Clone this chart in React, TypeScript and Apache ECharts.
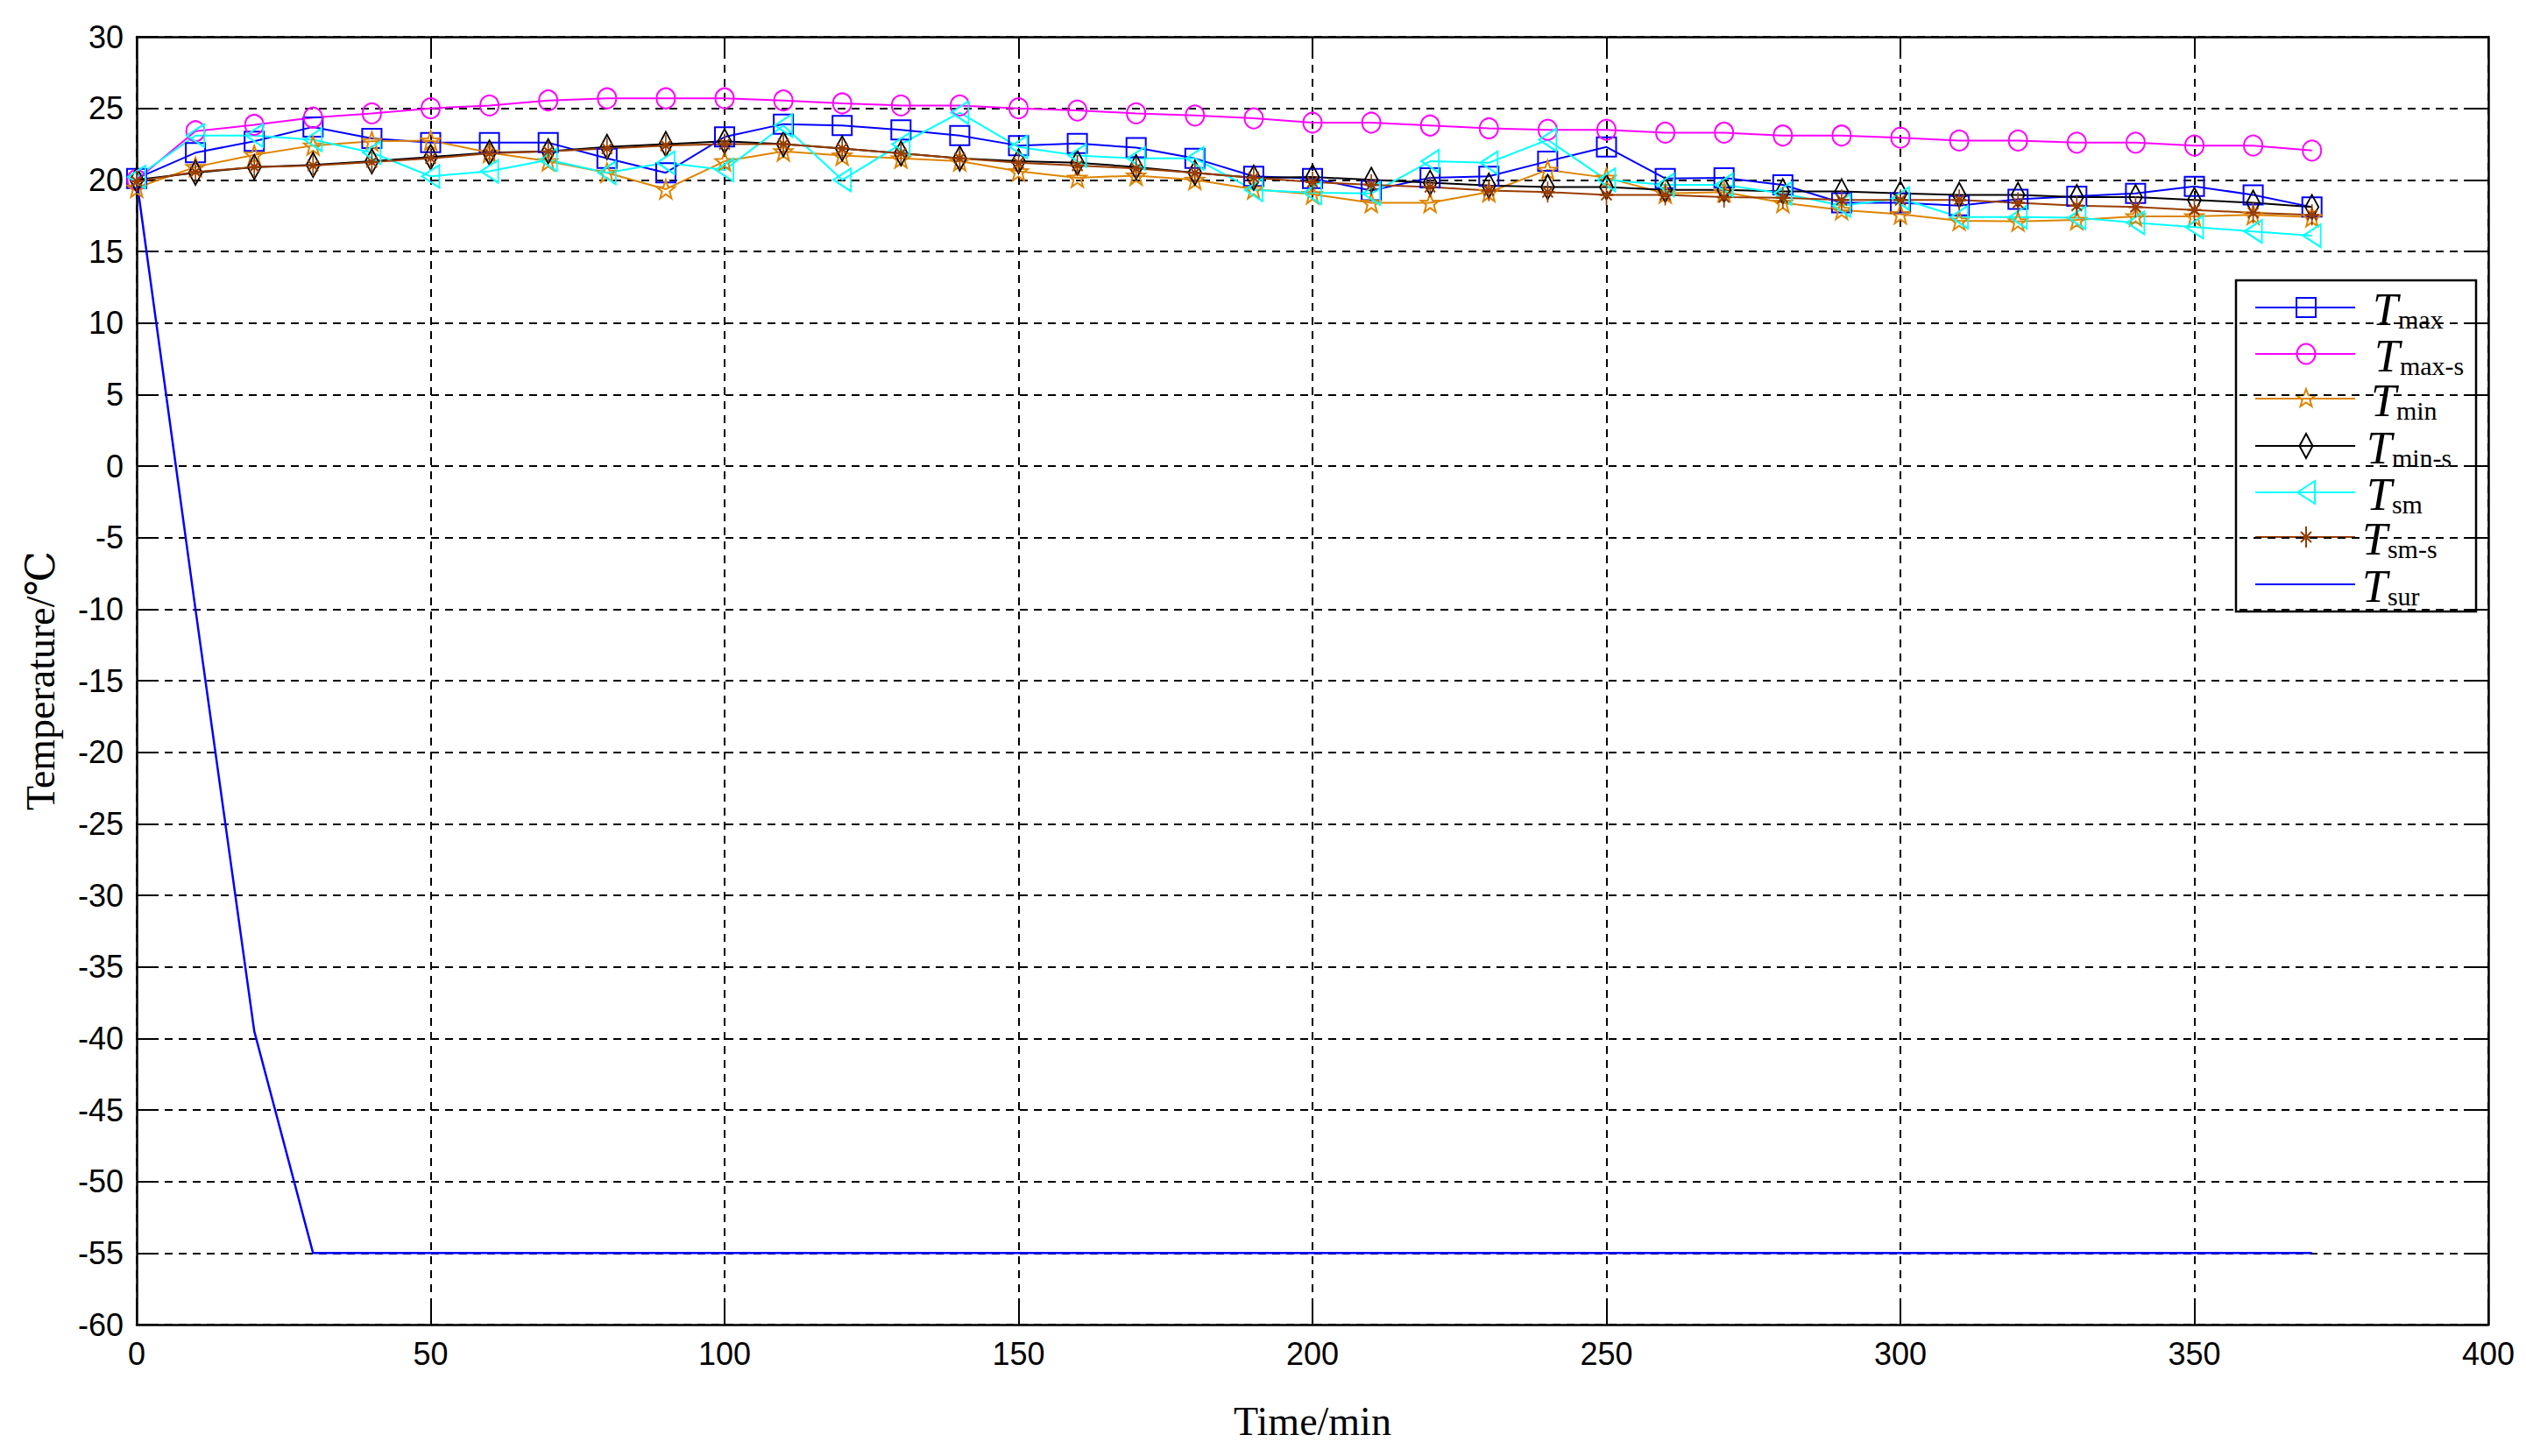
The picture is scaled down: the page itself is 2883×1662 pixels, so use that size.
import React, { useEffect, useRef } from "react";
import * as echarts from "echarts";

// ---- data ----
const TIME = [0, 10, 20, 30, 40, 50, 60, 70, 80, 90, 100, 110, 120, 130, 140, 150, 160, 170, 180, 190, 200, 210, 220, 230, 240, 250, 260, 270, 280, 290, 300, 310, 320, 330, 340, 350, 360, 370];

const T_MAX = [20.1, 21.9, 22.7, 23.7, 22.9, 22.6, 22.6, 22.6, 21.5, 20.5, 23.0, 23.9, 23.8, 23.5, 23.1, 22.4, 22.55, 22.25, 21.5, 20.25, 20.1, 19.25, 20.15, 20.25, 21.3, 22.3, 20.1, 20.15, 19.65, 18.4, 18.4, 18.2, 18.65, 18.85, 19.05, 19.55, 18.95, 18.1];
const T_MAX_S = [20.0, 23.4, 23.85, 24.35, 24.65, 25.0, 25.2, 25.55, 25.7, 25.7, 25.7, 25.55, 25.35, 25.2, 25.2, 25.0, 24.85, 24.65, 24.5, 24.3, 24.0, 24.0, 23.8, 23.6, 23.5, 23.5, 23.3, 23.3, 23.1, 23.1, 22.95, 22.75, 22.75, 22.6, 22.6, 22.4, 22.4, 22.05];
const T_MIN = [19.45, 20.9, 21.75, 22.4, 22.7, 22.75, 21.9, 21.3, 20.5, 19.35, 21.3, 22.0, 21.7, 21.5, 21.3, 20.6, 20.15, 20.3, 20.0, 19.35, 19.0, 18.4, 18.4, 19.15, 20.7, 20.15, 19.05, 19.15, 18.4, 17.9, 17.6, 17.15, 17.1, 17.2, 17.45, 17.45, 17.55, 17.4];
const T_MIN_S = [20.0, 20.5, 20.9, 21.05, 21.3, 21.6, 21.9, 22.0, 22.3, 22.5, 22.7, 22.5, 22.2, 21.85, 21.5, 21.3, 21.2, 20.9, 20.5, 20.15, 20.2, 20.0, 19.8, 19.6, 19.5, 19.5, 19.3, 19.3, 19.2, 19.2, 19.05, 18.95, 18.95, 18.8, 18.8, 18.6, 18.4, 18.1];
const T_SM = [20.2, 23.1, 23.1, 22.8, 21.9, 20.25, 20.6, 21.4, 20.5, 21.2, 20.7, 23.8, 20.0, 22.5, 24.7, 22.3, 21.7, 21.5, 21.5, 19.3, 19.1, 19.05, 21.3, 21.2, 22.8, 20.0, 19.65, 19.65, 19.05, 18.2, 18.7, 17.4, 17.4, 17.35, 17.0, 16.7, 16.4, 16.1];
const T_SM_S = [19.9, 20.55, 20.9, 21.0, 21.25, 21.5, 21.85, 22.0, 22.2, 22.4, 22.5, 22.5, 22.2, 21.85, 21.5, 21.2, 21.0, 20.8, 20.5, 20.15, 19.85, 19.65, 19.5, 19.25, 19.15, 18.95, 18.95, 18.8, 18.75, 18.6, 18.6, 18.6, 18.4, 18.2, 18.1, 17.9, 17.7, 17.55];
const T_SUR = [20, -10, -39.5, -55, -55, -55, -55, -55, -55, -55, -55, -55, -55, -55, -55, -55, -55, -55, -55, -55, -55, -55, -55, -55, -55, -55, -55, -55, -55, -55, -55, -55, -55, -55, -55, -55, -55, -55];

const SUBS = ["max", "max-s", "min", "min-s", "sm", "sm-s", "sur"];

// ---- styling ----
const BLUE = "#0000FF";
const MAGENTA = "#FF00FF";
const ORANGE = "#DE8400";
const BLACK = "#000000";
const CYAN = "#00FFFF";
const BROWN = "#993D00";
const SERIF = "'Times New Roman', 'Liberation Serif', 'DejaVu Serif', 'Noto Sans CJK SC', serif";
const SANS = "Arial, 'Liberation Sans', 'DejaVu Sans', sans-serif";

const STAR_D = "M0,-11 L2.65,-3.64 L10.46,-3.4 L4.28,1.39 L6.47,8.9 L0,4.5 L-6.47,8.9 L-4.28,1.39 L-10.46,-3.4 L-2.65,-3.64 Z";
const AST_D = "M0,-12 L0,12 M-8,0 L8,0 M-6,-6 L6,6 M6,-6 L-6,6";
const TRI_D = "M-10,0 L10,-13 L10,13 Z";

echarts.graphic.registerShape("lgStar", echarts.graphic.extendPath(STAR_D, {}));
echarts.graphic.registerShape("lgAst", echarts.graphic.extendPath(AST_D, {}));
echarts.graphic.registerShape("lgTri", echarts.graphic.extendPath(TRI_D, {}));

const CLEAR = "rgba(0,0,0,0)";

function pairs(ys: number[]) {
  return TIME.map((t, i) => [t, ys[i]]);
}

function lineSeries(name: string, ys: number[], color: string, symbol: string, size: any, fill: string, lw = 2) {
  return {
    name,
    type: "line",
    data: pairs(ys),
    symbol,
    symbolSize: size,
    showSymbol: symbol !== "none",
    lineStyle: { color, width: lw },
    itemStyle: { color: fill, borderColor: color, borderWidth: 2 },
    emphasis: { disabled: true },
  };
}

export default function App() {
  const ref = useRef<HTMLDivElement>(null);

  useEffect(() => {
    if (!ref.current) return;
    const chart = echarts.init(ref.current, null, { renderer: "svg" });

    const gridLine = { show: true, lineStyle: { color: "#000", type: [9, 7], width: 2 } };
    const axisLine = { show: true, onZero: false, lineStyle: { color: "#000", width: 2.5 } };
    const tick = { show: true, inside: true, length: 24, lineStyle: { color: "#000", width: 2 } };

    const colors = [BLUE, MAGENTA, ORANGE, BLACK, CYAN, BROWN, BLUE];
    const rows = [351, 404, 455, 509, 562, 613, 667];
    const textX = [2708, 2710, 2706, 2701, 2701, 2696, 2696];
    const mx = 2632;

    const legendChildren: any[] = [
      {
        type: "rect",
        shape: { x: 2552, y: 320, width: 274, height: 378 },
        style: { fill: "#fff", stroke: "#000", lineWidth: 2.5 },
      },
    ];
    rows.forEach((y, i) => {
      const c = colors[i];
      legendChildren.push({
        type: "line",
        shape: { x1: 2574, y1: y, x2: 2688, y2: y },
        style: { stroke: c, lineWidth: 2 },
      });
      const st = { fill: "none", stroke: c, lineWidth: 2 };
      if (i === 0) legendChildren.push({ type: "rect", shape: { x: mx - 11, y: y - 11, width: 22, height: 22 }, style: st });
      if (i === 1) legendChildren.push({ type: "ellipse", shape: { cx: mx, cy: y, rx: 10.5, ry: 11.5 }, style: st });
      if (i === 2) legendChildren.push({ type: "lgStar", x: mx, y, style: st });
      if (i === 3)
        legendChildren.push({
          type: "polygon",
          shape: { points: [[mx, y - 14], [mx + 7.5, y], [mx, y + 14], [mx - 7.5, y]] },
          style: st,
        });
      if (i === 4) legendChildren.push({ type: "lgTri", x: mx, y, style: st });
      if (i === 5) legendChildren.push({ type: "lgAst", x: mx, y, style: { fill: c, stroke: c, lineWidth: 2 } });
      legendChildren.push({
        type: "text",
        x: textX[i],
        y: y + 2,
        style: {
          text: "{t|T}{s|" + SUBS[i] + "}",
          fill: "#000",
          verticalAlign: "middle",
          align: "left",
          rich: {
            t: { fontFamily: SERIF, fontStyle: "italic", fontSize: 52, verticalAlign: "bottom", fill: "#000" },
            s: { fontFamily: SERIF, fontSize: 30, verticalAlign: "bottom", fill: "#000" },
          },
        },
      });
    });

    chart.setOption({
      animation: false,
      backgroundColor: "#fff",
      grid: { left: 156, right: 43, top: 42, bottom: 150, containLabel: false },
      xAxis: [
        {
          type: "value",
          min: 0,
          max: 400,
          interval: 50,
          position: "bottom",
          axisLine,
          axisTick: tick,
          splitLine: gridLine,
          axisLabel: { color: "#000", fontSize: 36, fontFamily: SANS, margin: 15 },
          name: "Time/min",
          nameLocation: "middle",
          nameGap: 87,
          nameTextStyle: { color: "#000", fontSize: 46, fontFamily: SERIF },
        },
        {
          type: "value",
          min: 0,
          max: 400,
          interval: 50,
          position: "top",
          axisLine,
          axisTick: tick,
          splitLine: { show: false },
          axisLabel: { show: false },
        },
      ],
      yAxis: [
        {
          type: "value",
          min: -60,
          max: 30,
          interval: 5,
          position: "left",
          axisLine,
          axisTick: tick,
          splitLine: gridLine,
          axisLabel: { color: "#000", fontSize: 36, fontFamily: SANS, margin: 15 },
          name: "Temperature/℃",
          nameLocation: "middle",
          nameRotate: 90,
          nameGap: 87,
          nameTextStyle: { color: "#000", fontSize: 46, fontFamily: SERIF },
        },
        {
          type: "value",
          min: -60,
          max: 30,
          interval: 5,
          position: "right",
          axisLine,
          axisTick: tick,
          splitLine: { show: false },
          axisLabel: { show: false },
        },
      ],
      series: [
        lineSeries("Tmax", T_MAX, BLUE, "rect", 22, CLEAR),
        lineSeries("Tmax-s", T_MAX_S, MAGENTA, "circle", [21, 23], CLEAR),
        lineSeries("Tmin", T_MIN, ORANGE, "path://" + STAR_D, 21, CLEAR),
        lineSeries("Tmin-s", T_MIN_S, BLACK, "diamond", [15, 28], CLEAR),
        lineSeries("Tsm", T_SM, CYAN, "path://" + TRI_D, [20, 26], CLEAR),
        lineSeries("Tsm-s", T_SM_S, BROWN, "path://" + AST_D, [16, 24], BROWN),
        lineSeries("Tsur", T_SUR, BLUE, "none", 0, CLEAR, 2.5),
      ],
      graphic: [{ type: "group", z: 100, children: legendChildren }],
    });

    return () => chart.dispose();
  }, []);

  return (
    <div
      ref={ref}
      style={{ position: "fixed", left: 0, top: 0, width: 2883, height: 1662, background: "#fff" }}
    />
  );
}
